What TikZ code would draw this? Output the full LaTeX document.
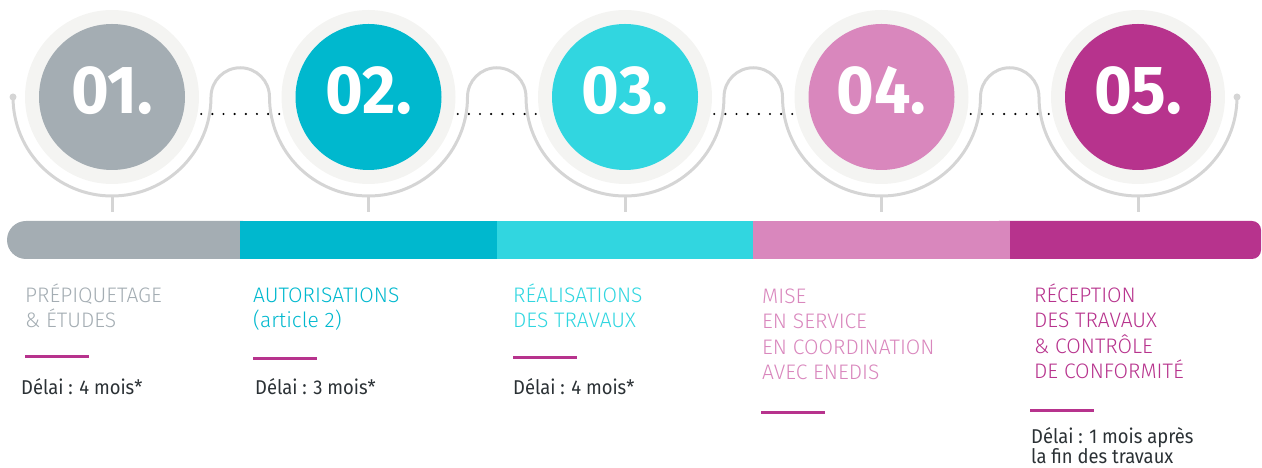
\documentclass[tikz,border=0pt]{standalone}
\usepackage{fontspec}
\setmainfont{Fira Sans}[FakeStretch=0.92]
\newfontfamily\lightfont{Fira Sans Light}
\newfontfamily\numfont{Fira Sans Bold}[FakeStretch=0.95]
\definecolor{stepgray}{HTML}{A4ADB3}
\definecolor{stepteal}{HTML}{00B8CE}
\definecolor{stepcyan}{HTML}{31D6E0}
\definecolor{steppink}{HTML}{D987BD}
\definecolor{stepmagenta}{HTML}{B7338D}
\definecolor{ringgray}{HTML}{F4F4F2}
\definecolor{linegray}{HTML}{D5D5D5}
\definecolor{textdark}{HTML}{2B3135}
\tikzset{
  ring/.style={circle, fill=ringgray, minimum size=174pt, inner sep=0pt},
  disc/.style={circle, fill=#1, minimum size=146pt, inner sep=0pt},
  number/.style={anchor=base, text=white, font=\numfont\fontsize{68}{68}\selectfont, inner sep=0pt},
  track/.style={draw=linegray, line width=3pt},
  title/.style={anchor=base west, align=left, inner sep=0pt, text=#1,
    font=\lightfont\fontsize{21}{25.6}\selectfont},
  delay/.style={anchor=base west, align=left, inner sep=0pt, text=textdark,
    font=\fontsize{20}{20}\selectfont},
  rule/.style={draw=stepmagenta, line width=3pt},
}

\begin{document}
\begin{tikzpicture}[x=1pt,y=1pt]
		\useasboundingbox (0,0) rectangle (1262,468);
		%\draw[help lines, step=50] (0,0) grid (1262,468);
		
		% dotted links between the circles
		\foreach \mx in {240.25,496.75,753.25,1009.75}
		\foreach \k in {0,...,7}
		\fill[black] (\mx-39+\k*11.14,354) circle (1.2);
		
		% grey track round the circles
		\draw[track] (13,371) foreach \k in {1,...,4} {
			arc[start angle=180, end angle=360, radius=99]
			arc[start angle=180, end angle=0, radius=29.25] }
		arc[start angle=180, end angle=360, radius=99];
		\fill[linegray] (13,371) circle (3.5);%ends
		\fill[linegray] (1237,371) circle (3.5);%ends
		
		% circles, numbers and stems
		\foreach \i/\cx/\col in {1/112/stepgray, 2/368.5/stepteal, 3/625/stepcyan,
			4/881.5/steppink, 5/1138/stepmagenta}{
			\node[ring] (ring\i) at (\cx,371) {};
			\node[disc=\col] (disc\i) at (\cx,371) {};
			\node[number] (num\i) at (\cx,354) {0\i.};
			\coordinate (stem\i) at (\cx,256);
			\draw[track] (\cx,272) -- (stem\i);
		}
		
		% coloured bar
		\fill[stepgray, rounded corners=19] (7,209) rectangle (262,247);
		\fill[stepmagenta, rounded corners=9] (990,209) rectangle (1261,247);
		\fill[stepteal] (240.25,209) rectangle (496.75,247);
		\fill[stepcyan] (496.75,209) rectangle (753.25,247);
		\fill[steppink] (753.25,209) rectangle (1009.75,247);
		
		% titles (base = last line)
		\node[title=stepgray] (title1) at (25,140) {PRÉPIQUETAGE\\\& ÉTUDES};
		\node[title=stepteal] (title2) at (253,140) {AUTORISATIONS\\(article 2)};
		\node[title=stepcyan] (title3) at (513,140) {RÉALISATIONS\\DES TRAVAUX};
		\node[title=steppink] (title4) at (762,88) {MISE\\EN SERVICE\\EN COORDINATION\\AVEC ENEDIS};
		\node[title=stepmagenta] (title5) at (1034,89) {RÉCEPTION\\DES TRAVAUX\\\& CONTRÔLE\\DE CONFORMITÉ};
		
		% short rules
		\draw[rule] (25,111) -- (89,111);
		\draw[rule] (253,109) -- (317,109);
		\draw[rule] (513,110) -- (577,110);
		\draw[rule] (761,55) -- (825,55);
		\draw[rule] (1030,57) -- (1094,57);
		
		% delays
		\node[delay] (delay1) at (21,73) {Délai : 4 mois*};
		\node[delay] (delay2) at (255,73) {Délai : 3 mois*};
		\node[delay] (delay3) at (513,73) {Délai : 4 mois*};
		\node[delay] (delay5) at (1031,4) {Délai : 1 mois après\\la fin des travaux};
\end{tikzpicture}
\end{document}
